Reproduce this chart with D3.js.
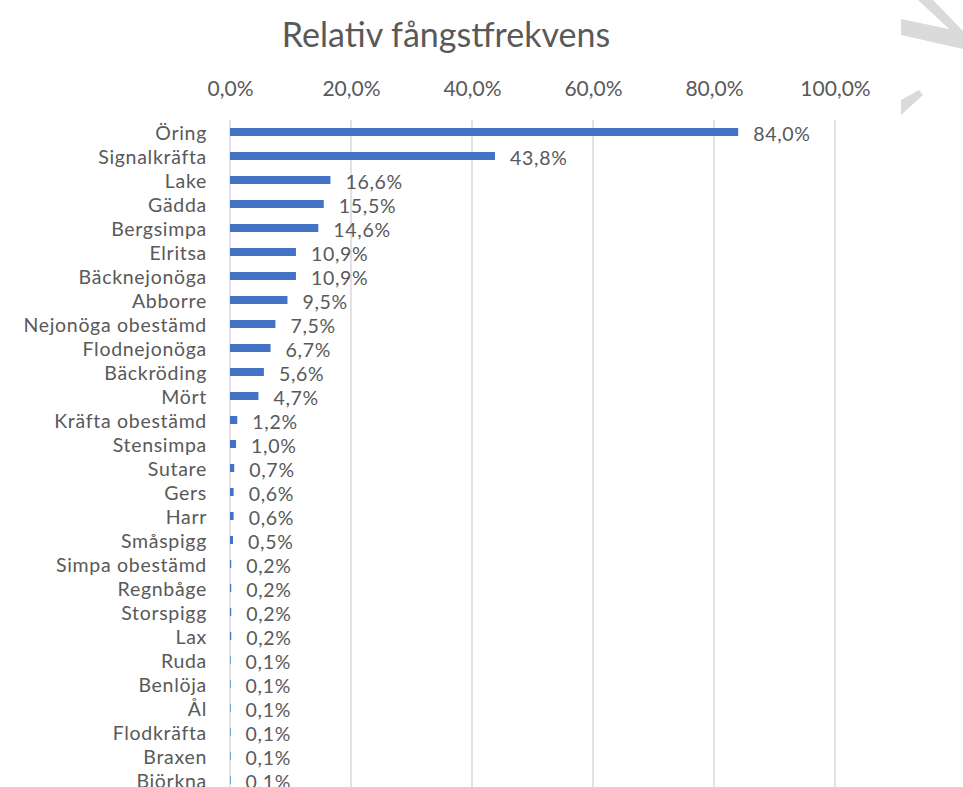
<!DOCTYPE html>
<html>
<head>
<meta charset="utf-8">
<script src="https://cdn.jsdelivr.net/npm/d3@7"></script>
<style>
  html, body { margin: 0; padding: 0; background: #fff; }
  svg { display: block; }
  text { font-family: Lato, "Open Sans", sans-serif; fill: #595959; }
</style>
</head>
<body>
<svg id="chart" width="963" height="787"></svg>
<script>
const title = "Relativ fångstfrekvens";
const categories = ["Öring","Signalkräfta","Lake","Gädda","Bergsimpa","Elritsa","Bäcknejonöga","Abborre","Nejonöga obestämd","Flodnejonöga","Bäckröding","Mört","Kräfta obestämd","Stensimpa","Sutare","Gers","Harr","Småspigg","Simpa obestämd","Regnbåge","Storspigg","Lax","Ruda","Benlöja","Ål","Flodkräfta","Braxen","Björkna"];
const values = [84.0,43.8,16.6,15.5,14.6,10.9,10.9,9.5,7.5,6.7,5.6,4.7,1.2,1.0,0.7,0.6,0.6,0.5,0.2,0.2,0.2,0.2,0.1,0.1,0.1,0.1,0.1,0.1];
const tickValues = [0,20,40,60,80,100];

const svg = d3.select("#chart");
const fmt = v => v.toFixed(1).replace(".", ",") + "%";

// decorative watermark shapes (top right)
const wm = [
  [[901,19],[963,32],[963,49],[901,35]],
  [[918,0],[933,0],[963,31],[963,42]],
  [[901,100],[901,115],[923,95],[919,90]]
];
svg.selectAll("polygon.wm").data(wm).join("polygon")
  .attr("class","wm")
  .attr("points", d => d.map(p => p.join(",")).join(" "))
  .attr("fill", "#dadada");

const x = d3.scaleLinear().domain([0,100]).range([230,835]);
const y = d3.scaleBand().domain(categories).range([120, 120 + 24*categories.length])
  .paddingInner(2/3).paddingOuter(1/3);

// gridlines
svg.append("g").selectAll("line").data(tickValues).join("line")
  .attr("x1", d => x(d)).attr("x2", d => x(d))
  .attr("y1", 120).attr("y2", 120 + 24*categories.length)
  .attr("stroke", "#d9d9d9").attr("stroke-width", 1.5);

// top axis labels
const axis = d3.axisTop(x).tickValues(tickValues).tickFormat(d => d.toFixed(1).replace(".", ",") + "%").tickSize(0).tickPadding(0);
const ax = svg.append("g").attr("transform", "translate(0,96)").call(axis);
ax.select(".domain").remove();
ax.selectAll("text").style("font-family", "Lato, 'Open Sans', sans-serif")
  .attr("fill", "#595959").style("font-size", "21px");

// bars
svg.append("g").selectAll("rect").data(categories).join("rect")
  .attr("x", x(0))
  .attr("y", d => y(d))
  .attr("width", (d,i) => x(values[i]) - x(0))
  .attr("height", y.bandwidth())
  .attr("fill", "#4472C4");

// category labels
svg.append("g").selectAll("text").data(categories).join("text")
  .attr("x", 207)
  .attr("y", d => y(d) + y.bandwidth()/2)
  .attr("text-anchor", "end")
  .attr("dominant-baseline", "central")
  .style("font-size", "19.5px")
  .style("letter-spacing", "0.7px")
  .text(d => d);

// value labels
svg.append("g").selectAll("text").data(categories).join("text")
  .attr("x", (d,i) => x(values[i]) + 15)
  .attr("y", d => y(d) + y.bandwidth()/2 + 1)
  .attr("dominant-baseline", "central")
  .style("font-size", "19.5px")
  .style("letter-spacing", "0.7px")
  .text((d,i) => fmt(values[i]));

// title
svg.append("text")
  .attr("x", 446).attr("y", 47)
  .attr("text-anchor", "middle")
  .style("font-size", "34px")
  .text(title);
</script>
</body>
</html>
